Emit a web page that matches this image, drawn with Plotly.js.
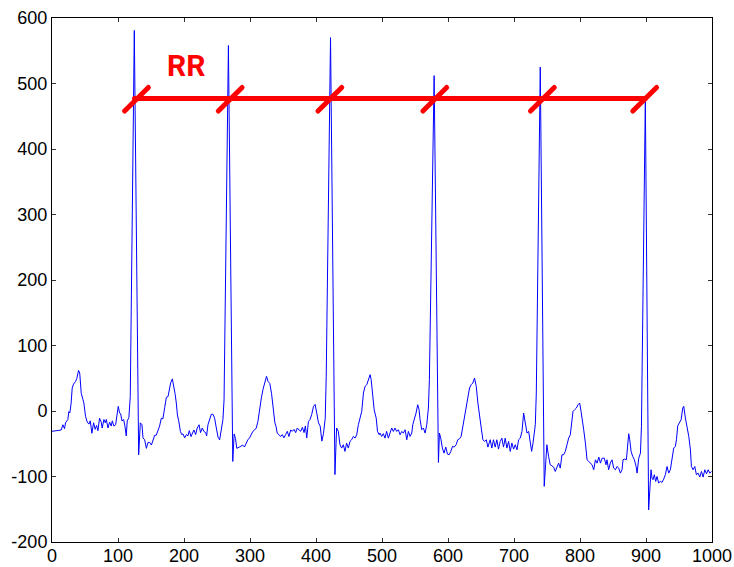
<!DOCTYPE html>
<html>
<head>
<meta charset="utf-8">
<script src="https://cdn.plot.ly/plotly-3.0.1.min.js"></script>
<style>
html,body{margin:0;padding:0;background:#fff;}
#chart{width:734px;height:567px;}
.scatterlayer .trace:nth-child(n+2) path.js-line{stroke-linecap:round;}
</style>
</head>
<body>
<div id="chart"></div>
<script>
// ECG sample index and amplitude
const ecgX = [0,6,14,16.5,19,20.5,24,25.5,27,29,30.6,32.6,35.7,37.7,40.2,42,44.3,46.8,48.3,50.8,53.4,56,58,60.4,63,65.5,67.5,69.6,72,74.6,76,78.7,80.7,82.3,84.8,87.3,89.8,91.3,93.8,96.4,98.9,100.4,102.4,104,106,108.5,110.5,112.5,114,116.5,118.6,124.7,131.3,133.8,136.3,137.9,140.4,143,145.5,148,150.6,153,155.6,158,160.7,163,
165.6,168,170.7,173.3,175.8,177.3,179.8,182.3,184.3,186.4,188.4,190,192,194.5,196.5,198.5,201,203.6,206,208,210.6,212.6,215,217.7,220,222.8,225,227.7,230,232.8,234.3,236.3,238.8,241.4,244,246.4,249,251.6,254,256.7,259,260.7,267.3,273.9,276,278,280,284,286.5,289,291.6,294,296.8,299.3,301.9,304.4,307,309.5,312,313.6,314.6,317.2,319.7,322.3,325,327.4,330,332.6,335,337.7,
339.3,341.3,343.8,346.4,348.9,351.4,354,356.5,359,361.6,364.1,366.7,369.2,371.7,374.3,376.8,379.4,381.9,383.9,386,388.5,391,393.6,396.2,398.7,401.2,403.8,406.3,408.9,411.4,414,415.5,422,428.7,431.2,433.8,436.3,438.8,441.4,443.9,446.4,449,451.5,454,456.6,459.2,461.7,464.2,466.8,469.3,471.9,474.4,477,479.5,482,483.6,486.1,488.1,491.2,493.2,495.7,
497,499.5,502,504.5,507,509.6,512,514.7,517.2,519.7,522.3,524.8,527.4,529.9,532.4,535,537.5,540,542.5,545.1,546.6,549.1,551.6,554.1,556.2,557.7,560.2,562.7,565.3,567.8,570.3,571.8,579,585.5,587,589,591.5,594,596.6,599.2,601.7,604.2,606.8,609.3,612.3,614.9,617.4,619.9,622.5,625,627.5,630,632.6,635.2,637.7,640.2,642.8,645.3,647.8,650.4,652.9,655.4,658,660.5,
663.9,666.4,668.9,671.5,674,676.5,679.1,681.6,684.1,686.7,689.2,691.8,694.3,696.8,699.4,701.9,704.5,707,709.5,712.1,714.6,716.1,717.6,719.7,722.2,724.7,726.7,728.8,730.8,732.3,733.8,739.8,745.8,747.8,749.8,752.4,754.9,757.4,760,762.5,765,767.6,770.1,772.7,775.2,777.7,780.3,782.8,785.3,787.9,789.4,791.9,794.5,797,799.5,801.6,803.6,805.6,808.2,810.7,813.2,815.8,818.3,820.8,823.4,825.9,828.5,831,833.5,
836.8,839.4,840.9,843.4,845.9,848.5,851,853.6,856.1,858.6,861.2,863.7,865.2,867.8,870.3,872.3,873.8,875.4,877.4,879.9,882.4,885,886.5,889,891.6,893.1,899,904,905.6,907.6,909.1,910.6,912.6,914.7,916.7,919.2,921.7,924.3,926.8,929.3,931.9,934.4,936.9,939.5,942,944.5,946.1,948.1,950.6,953.2,955.7,957.2,959.7,962.3,964.8,967.3,968.8,971.4,973.9,976.4,979,981.5,984,986.6,989.1,991.7,994.2,996.7,999.3];
const ecgY = [-31,-30,-29,-21,-27,-18,-13,-1,-3,12,35,41,45,50,62,58,27,18,12,-8,-17,-20,-15,-34,-18,-28,-22,-30,-11,-17,-26,-13,-18,-13,-26,-17,-23,-15,-23,-21,-1,7,-3,-4,-15,-13,-23,-38,-15,-10,22,581,-67,-18,-21,-41,-44,-57,-48,-48,-52,-46,-37,-37,-30,-23,
-11,-12,5,21,22,30,43,49,40,27,12,-6,-15,-31,-36,-35,-41,-36,-38,-30,-39,-33,-29,-36,-26,-21,-33,-26,-31,-33,-38,-21,-11,-5,-5,-11,-26,-40,-44,-29,-13,17,558,-77,-35,-42,-57,-55,-54,-52,-55,-49,-44,-41,-36,-31,-29,-26,-16,-2,7,20,33,43,53,45,42,27,2,-18,
-23,-34,-36,-39,-36,-41,-36,-31,-39,-29,-31,-28,-33,-26,-29,-31,-25,-33,-23,-41,-16,-13,-5,7,10,-5,-18,-23,-46,-34,-11,53,570,-97,-26,-31,-51.5,-56.6,-51.5,-61.7,-49,-56.6,-46.4,-43.9,-38.8,-41.4,-36.2,-21,-10.8,-0.6,27.5,37.6,40.2,47.9,55.5,47.9,27.5,2,-10.8,-31,-36.2,
-33.7,-38.8,-34.6,-41.4,-31.2,-41.4,-33.7,-26,-31.2,-26,-31.2,-28.6,-36.3,-31.2,-33.7,-28.6,-43.9,-31.2,-38.8,-33.7,-21,-13.3,-3.1,9.6,2,-13.3,-28.6,-26,-33.7,-21,4.5,47.9,512,-78.6,-33.7,-41.4,-56.6,-64.3,-55.1,-65.8,-66.8,-61.7,-54,-55.1,-51.5,-43.9,-42.4,-38.8,-23.4,-5.7,7.1,19.8,35.1,40.2,42.8,50.4,37.6,12.2,-3.1,-26,-43.9,-46.5,-43.9,-55.1,
-43.9,-56.6,-43.9,-55.1,-43.9,-58.2,-46.5,-41.4,-55.1,-41.4,-56.6,-46.5,-61.7,-49,-58.2,-51.5,-59.2,-43.9,-41.4,-31.2,-3.1,-10.8,-23.4,-33.7,-31.2,-49,-61.7,-49,-26,-21,27.5,525,-115,-74.5,-51.5,-69.4,-82.1,-83.6,-85.7,-92.3,-85.7,-79.6,-87.2,-66.8,-66.8,-61.7,-51.5,-41.4,-36.3,-18.4,-0.6,2,4.5,9.6,12.2,-0.6,-18.4,-28.6,-49,-74.5,-77,-79.6,-82.1,-89.7,-74.5,-79.6,-70.4,-79.6,-72,
-72,-82.1,-74.5,-89.7,-79.6,-74.5,-87.2,-89.7,-84.7,-87.2,-94.8,-89.7,-74.5,-73.4,-74.5,-49,-34.7,-43.9,-61.7,-69.4,-74.5,-84.7,-94.8,-72,-64.3,-23.4,478,-151,-115,-89.7,-102.4,-105,-97.3,-107.5,-99.9,-110,-107.5,-109,-104,-97.3,-84.7,-94.8,-89.7,-69.4,-56.6,-54,-43.9,-22.5,-18.4,-13.3,4.5,7.1,-10.8,-23.4,-38.8,-59.2,-84.7,-89.7,-84.7,-97.3,-94.8,-100.9,-92.3,-100.9,-89.7,-95.9,-89.7,-94.8,-92.3];

// RR interval marker
const rrStartX = 125;
const rrEndX = 899;
const rrLevel = 477;
const rrSlashX = [128, 270, 421, 580, 743, 898];
const rrSlashY = [476, 476, 476, 476, 476, 476];
const rrLabel = "RR";
const rrLabelX = 203;
const rrLabelY = 527;

const xTicks = [0,100,200,300,400,500,600,700,800,900,1000];
const yTicks = [-200,-100,0,100,200,300,400,500,600];

const SL = 18; // slash half extent in data units
const slashX = [], slashY = [];
rrSlashX.forEach((cx, i) => {
  slashX.push(cx - SL, cx + SL, null);
  slashY.push(rrSlashY[i] - SL, rrSlashY[i] + SL, null);
});

const traces = [
  {x: ecgX, y: ecgY, type: 'scatter', mode: 'lines',
   line: {color: '#0000ff', width: 1}, hoverinfo: 'skip'},
  {x: [rrStartX, rrEndX], y: [rrLevel, rrLevel], type: 'scatter', mode: 'lines',
   line: {color: '#ff0000', width: 5}, hoverinfo: 'skip'},
  {x: slashX, y: slashY, type: 'scatter', mode: 'lines', connectgaps: false,
   line: {color: '#ff0000', width: 5}, hoverinfo: 'skip'}
];

const axisCommon = {
  showgrid: false, zeroline: false, showline: true, linecolor: '#000', linewidth: 1,
  mirror: 'ticks', ticks: 'inside', ticklen: 4, tickwidth: 1, tickcolor: '#333',
  tickfont: {family: 'Liberation Sans, Arial, sans-serif', size: 18, color: '#000'}
};

const layout = {
  width: 734, height: 567,
  margin: {l: 52, r: 22, t: 18, b: 25, pad: 0},
  paper_bgcolor: '#fff', plot_bgcolor: '#fff',
  showlegend: false,
  xaxis: Object.assign({}, axisCommon, {range: [0, 1000], tickvals: xTicks, ticktext: xTicks.map(String), ticklabelstandoff: -3}),
  yaxis: Object.assign({}, axisCommon, {range: [-200, 600], tickvals: yTicks, ticktext: yTicks.map(String)}),
  annotations: [{
    x: rrLabelX, y: rrLabelY, xref: 'x', yref: 'y', text: '<b>' + rrLabel + '</b>',
    showarrow: false, font: {family: 'Roboto, Liberation Sans, sans-serif', size: 30, color: '#ff0000'}
  }]
};

Plotly.newPlot('chart', traces, layout, {staticPlot: true, displayModeBar: false});
</script>
</body>
</html>
